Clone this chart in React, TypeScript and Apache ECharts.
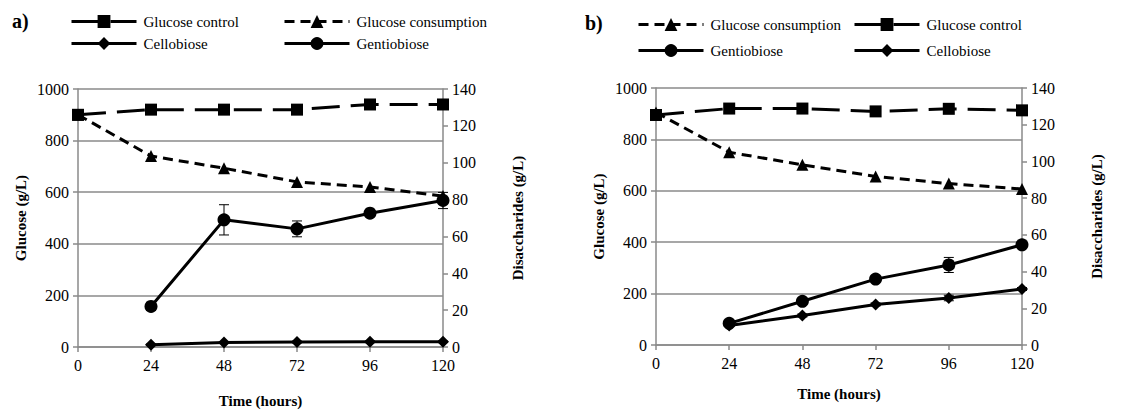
import React, { useEffect, useRef } from "react";
import * as echarts from "echarts";

const hours = [0, 24, 48, 72, 96, 120];

// Panel a
const glucoseControlA = [900, 920, 920, 920, 940, 940];
const glucoseConsumptionA = [900, 740, 693, 640, 620, 585];
const gentiobioseA = [null, 22.0, 69.0, 64.1, 72.6, 79.5];
const gentiobioseErrA = [null, 2.2, 8.2, 4.3, 1.2, 4.4];
const cellobioseA = [null, 1.2, 2.5, 2.7, 2.8, 2.8];
const cellobioseErrA = [null, 0.4, 0.4, 0.4, 0.4, 0.4];

// Panel b
const glucoseControlB = [895, 920, 920, 909, 919, 913];
const glucoseConsumptionB = [905, 750, 701, 656, 628, 607];
const gentiobioseB = [null, 11.8, 23.8, 35.9, 43.6, 54.6];
const gentiobioseErrB = [null, 1.0, 1.0, 1.0, 4.1, 1.3];
const cellobioseB = [null, 10.6, 16.1, 22.1, 25.6, 30.5];
const cellobioseErrB = [null, 0.5, 0.8, 0.8, 1.5, 0.8];

const FONT = "'Liberation Serif', 'Times New Roman', serif";
const GRID_GRAY = "#8a8a8a";

const pairs = (vals: (number | null)[]) =>
  hours.map((h, i) => (vals[i] == null ? null : [h, vals[i]])).filter((p) => p !== null);

const errs = (vals: (number | null)[], e: (number | null)[]) =>
  hours
    .map((h, i) => (vals[i] == null || e[i] == null ? null : [h, (vals[i] as number) - (e[i] as number), (vals[i] as number) + (e[i] as number)]))
    .filter((p) => p !== null);

const errorRender = (params: any, api: any) => {
  const x = api.value(0);
  const lo = api.coord([x, api.value(1)]);
  const hi = api.coord([x, api.value(2)]);
  const w = 5;
  const st = { stroke: "#000", lineWidth: 1 };
  return {
    type: "group",
    children: [
      { type: "line", shape: { x1: lo[0], y1: lo[1], x2: hi[0], y2: hi[1] }, style: st },
      { type: "line", shape: { x1: lo[0] - w, y1: lo[1], x2: lo[0] + w, y2: lo[1] }, style: st },
      { type: "line", shape: { x1: hi[0] - w, y1: hi[1], x2: hi[0] + w, y2: hi[1] }, style: st },
    ],
  };
};

const controlStyle = (xi: number, yi: number, data: number[]) => ({
  name: "Glucose control",
  type: "line",
  xAxisIndex: xi,
  yAxisIndex: yi,
  data: pairs(data),
  symbol: "rect",
  symbolSize: 12,
  lineStyle: { color: "#000", width: 3, type: [28, 11] },
  itemStyle: { color: "#000" },
  z: 3,
});
const consumptionStyle = (xi: number, yi: number, data: number[]) => ({
  name: "Glucose consumption",
  type: "line",
  xAxisIndex: xi,
  yAxisIndex: yi,
  data: pairs(data),
  symbol: "triangle",
  symbolSize: 12,
  lineStyle: { color: "#000", width: 3, type: [10, 6] },
  itemStyle: { color: "#000" },
  z: 3,
});
const gentioStyle = (xi: number, yi: number, data: (number | null)[]) => ({
  name: "Gentiobiose",
  type: "line",
  xAxisIndex: xi,
  yAxisIndex: yi,
  data: pairs(data),
  symbol: "circle",
  symbolSize: 13,
  lineStyle: { color: "#000", width: 3 },
  itemStyle: { color: "#000" },
  z: 3,
});
const cellobioseStyle = (xi: number, yi: number, data: (number | null)[]) => ({
  name: "Cellobiose",
  type: "line",
  xAxisIndex: xi,
  yAxisIndex: yi,
  data: pairs(data),
  symbol: "diamond",
  symbolSize: 12,
  lineStyle: { color: "#000", width: 3 },
  itemStyle: { color: "#000" },
  z: 3,
});
const errSeries = (xi: number, yi: number, v: (number | null)[], e: (number | null)[]) => ({
  type: "custom",
  xAxisIndex: xi,
  yAxisIndex: yi,
  data: errs(v, e),
  encode: { x: 0, y: [1, 2] },
  renderItem: errorRender,
  z: 2,
  silent: true,
});

const legendItem = (name: string, left: number, top: number) => ({
  data: [name],
  left,
  top,
  padding: 0,
  itemWidth: 65,
  itemHeight: 16,
  itemGap: 0,
  selectedMode: false,
  lineStyle: { width: 3 },
  textStyle: { fontFamily: FONT, fontSize: 15, color: "#000", padding: [0, 0, 0, 2] },
});

const labelFmt = (v: number) => String(v);

const xAxisCfg = (gi: number, gap: number) => ({
  type: "value",
  gridIndex: gi,
  min: 0,
  max: 120,
  interval: 24,
  name: "Time (hours)",
  nameLocation: "middle",
  nameGap: gap,
  nameTextStyle: { fontFamily: FONT, fontSize: 15, fontWeight: "bold", color: "#000" },
  axisLine: { show: true, lineStyle: { color: GRID_GRAY, width: 1.5 } },
  axisTick: { show: true, length: 5, lineStyle: { color: GRID_GRAY, width: 1.5 } },
  axisLabel: { fontFamily: FONT, fontSize: 16, color: "#000", margin: 10, formatter: labelFmt },
  splitLine: { show: false },
});

const leftY = (gi: number) => ({
  type: "value",
  gridIndex: gi,
  position: "left",
  min: 0,
  max: 1000,
  interval: 200,
  name: "Glucose (g/L)",
  nameLocation: "middle",
  nameRotate: 90,
  nameGap: 50,
  nameTextStyle: { fontFamily: FONT, fontSize: 15, fontWeight: "bold", color: "#000" },
  axisLine: { show: true, lineStyle: { color: GRID_GRAY, width: 1.5 } },
  axisTick: { show: true, length: 5, lineStyle: { color: GRID_GRAY, width: 1.5 } },
  axisLabel: { fontFamily: FONT, fontSize: 16, color: "#000", margin: 9, formatter: labelFmt },
  splitLine: { show: true, lineStyle: { color: GRID_GRAY, width: 1.5 } },
});

const rightY = (gi: number) => ({
  type: "value",
  gridIndex: gi,
  position: "right",
  min: 0,
  max: 140,
  interval: 20,
  name: "Disaccharides (g/L)",
  nameLocation: "middle",
  nameRotate: 90,
  nameGap: 67,
  nameTextStyle: { fontFamily: FONT, fontSize: 15, fontWeight: "bold", color: "#000" },
  axisLine: { show: true, lineStyle: { color: GRID_GRAY, width: 1.5 } },
  axisTick: { show: true, length: 5, lineStyle: { color: GRID_GRAY, width: 1.5 } },
  axisLabel: { fontFamily: FONT, fontSize: 16, color: "#000", margin: 9, formatter: labelFmt },
  splitLine: { show: false },
});

export default function App() {
  const ref = useRef<HTMLDivElement>(null);
  useEffect(() => {
    if (!ref.current) return;
    const chart = echarts.init(ref.current, null, { renderer: "svg" });
    chart.setOption({
      animation: false,
      backgroundColor: "#fff",
      textStyle: { fontFamily: FONT, color: "#000" },
      grid: [
        { left: 78, top: 89, width: 365, height: 258 },
        { left: 656, top: 88, width: 366, height: 257 },
      ],
      xAxis: [xAxisCfg(0, 46), xAxisCfg(1, 41)],
      yAxis: [leftY(0), rightY(0), leftY(1), rightY(1)],
      legend: [
        legendItem("Glucose control", 70, 14),
        legendItem("Glucose consumption", 283, 14),
        legendItem("Cellobiose", 70, 36),
        legendItem("Gentiobiose", 283, 36),
        legendItem("Glucose consumption", 637, 17),
        legendItem("Glucose control", 853, 17),
        legendItem("Gentiobiose", 637, 43),
        legendItem("Cellobiose", 853, 43),
      ],
      graphic: [
        { type: "text", left: 12, top: 11, style: { text: "a)", fontFamily: FONT, fontSize: 20, fontWeight: "bold", fill: "#000" } },
        { type: "text", left: 585, top: 13, style: { text: "b)", fontFamily: FONT, fontSize: 20, fontWeight: "bold", fill: "#000" } },
      ],
      series: [
        errSeries(0, 1, gentiobioseA, gentiobioseErrA),
        errSeries(0, 1, cellobioseA, cellobioseErrA),
        controlStyle(0, 0, glucoseControlA),
        consumptionStyle(0, 0, glucoseConsumptionA),
        cellobioseStyle(0, 1, cellobioseA),
        gentioStyle(0, 1, gentiobioseA),
        errSeries(1, 3, gentiobioseB, gentiobioseErrB),
        errSeries(1, 3, cellobioseB, cellobioseErrB),
        consumptionStyle(1, 2, glucoseConsumptionB),
        controlStyle(1, 2, glucoseControlB),
        gentioStyle(1, 3, gentiobioseB),
        cellobioseStyle(1, 3, cellobioseB),
      ],
    });
    return () => chart.dispose();
  }, []);
  return (
    <div
      ref={ref}
      style={{ position: "fixed", left: 0, top: 0, width: 1127, height: 413, background: "#fff" }}
    />
  );
}
